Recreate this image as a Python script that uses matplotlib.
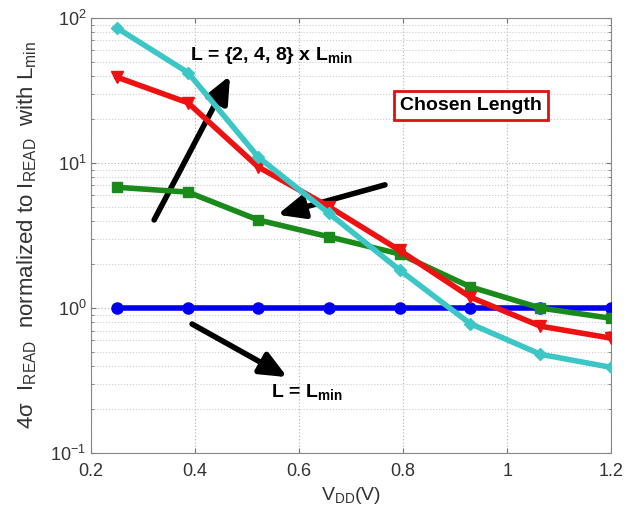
import matplotlib
matplotlib.use("Agg")
import matplotlib.pyplot as plt
from matplotlib.ticker import LogLocator, NullFormatter

plt.rcParams["font.family"] = ["Liberation Sans", "DejaVu Sans"]
plt.rcParams["mathtext.fontset"] = "custom"
plt.rcParams["mathtext.rm"] = "Liberation Sans"
plt.rcParams["mathtext.bf"] = "Liberation Sans:bold"

vdd = [0.25, 0.386, 0.521, 0.657, 0.793, 0.929, 1.064, 1.2]
i_lmin = [1.0, 1.0, 1.0, 1.0, 1.0, 1.0, 1.0, 1.0]
i_2x = [6.8, 6.3, 4.05, 3.1, 2.36, 1.4, 1.0, 0.85]
i_4x = [39, 26, 9.4, 5.0, 2.5, 1.19, 0.75, 0.62]
i_8x = [85, 42, 11, 4.5, 1.83, 0.78, 0.48, 0.39]

fig = plt.figure(figsize=(6.38, 5.12), dpi=100)
ax = fig.add_axes([0.143, 0.115, 0.815, 0.85])

lw = 4
ax.plot(vdd, i_lmin, color="#0000ee", lw=lw, marker="o", ms=8, zorder=3)
ax.plot(vdd, i_2x, color="#1a8a1a", lw=lw, marker="s", ms=7, zorder=4)
ax.plot(vdd, i_4x, color="#ee1111", lw=lw, marker="v", ms=8, zorder=5)
ax.plot(vdd, i_8x, color="#3cc6c6", lw=lw, marker="D", ms=6, zorder=6)

ax.set_yscale("log")
ax.set_xlim(0.2, 1.2)
ax.set_ylim(0.1, 100)
ax.set_xticks([0.2, 0.4, 0.6, 0.8, 1.0, 1.2])
ax.set_xticklabels(["0.2", "0.4", "0.6", "0.8", "1", "1.2"])
ax.yaxis.set_minor_locator(LogLocator(base=10, subs=range(2, 10)))
ax.yaxis.set_minor_formatter(NullFormatter())
ax.grid(which="major", linestyle=":", color="#bbbbbb", lw=0.9)
ax.grid(which="minor", axis="y", linestyle=":", color="#cccccc", lw=0.8)
ax.tick_params(labelsize=13, direction="in", which="both", top=True, right=True,
               color="#777777", labelcolor="#333333")
ax.tick_params(axis="x", pad=7)
for s in ax.spines.values():
    s.set_color("#888888")

ax.set_xlabel(r"V$_{\rm DD}$(V)", fontsize=14, labelpad=4, color="#333333")
ax.set_ylabel("4σ  I$_{\\rm READ}$  normalized to I$_{\\rm READ}$  with L$_{\\rm min}$",
              fontsize=16, labelpad=8, color="#333333")

arrow = dict(arrowstyle="-|>,head_length=1.6,head_width=0.7", color="black", lw=4,
             shrinkA=0, shrinkB=0)
ax.annotate("", xy=(0.467, 40), xytext=(0.321, 4.05), arrowprops=arrow)
ax.annotate("", xy=(0.558, 4.4), xytext=(0.765, 7.07), arrowprops=arrow)
ax.annotate("", xy=(0.577, 0.334), xytext=(0.394, 0.776), arrowprops=arrow)

ax.text(0.39, 55, r"L = {2, 4, 8} x L$_{\mathbf{min}}$", fontsize=14, fontweight="bold", va="center")
ax.text(0.545, 0.262, r"L = L$_{\mathbf{min}}$", fontsize=14, fontweight="bold", va="center")
ax.text(0.93, 25, "Chosen Length", fontsize=14, fontweight="bold", ha="center", va="center",
        bbox=dict(boxstyle="square,pad=0.3", fc="white", ec="#dd1111", lw=2))

fig.savefig("out.png", dpi=100)
